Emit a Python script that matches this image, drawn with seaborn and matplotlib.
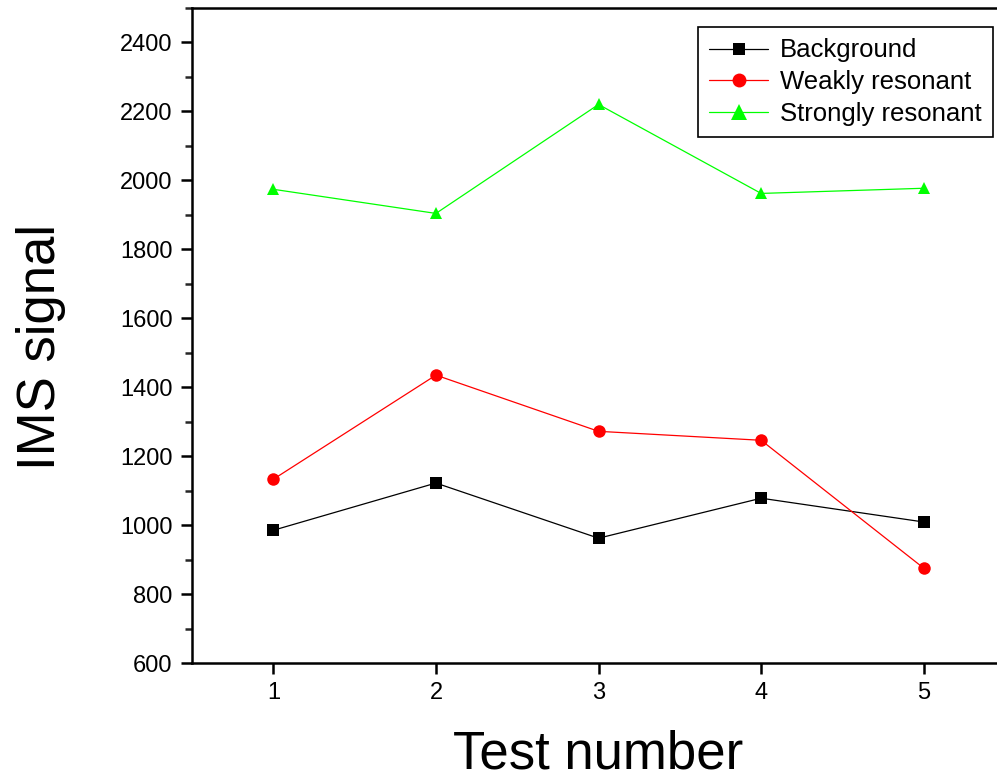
import matplotlib
matplotlib.use("Agg")
import matplotlib.pyplot as plt
import seaborn as sns
import pandas as pd
from matplotlib.ticker import MultipleLocator

tests = [1, 2, 3, 4, 5]
background = [985, 1122, 962, 1078, 1009]
weakly = [1133, 1435, 1272, 1246, 875]
strongly = [1974, 1904, 2220, 1962, 1977]
series_names = ["Background", "Weakly resonant", "Strongly resonant"]

df = pd.DataFrame({
    "Test": tests * 3,
    "Signal": background + weakly + strongly,
    "Series": [series_names[0]] * 5 + [series_names[1]] * 5 + [series_names[2]] * 5,
})

sns.set_style("ticks")
plt.rcParams['font.family'] = ['Liberation Sans', 'DejaVu Sans']
plt.rcParams['text.color'] = 'black'
plt.rcParams['axes.labelcolor'] = 'black'

fig = plt.figure(figsize=(9.97, 7.78), dpi=100)
ax = fig.add_axes([0.1926, 0.1478, 0.8155, 0.842])

palette = {series_names[0]: "#000000", series_names[1]: "#ff0000", series_names[2]: "#00ff00"}
markers = {series_names[0]: "s", series_names[1]: "o", series_names[2]: "^"}
sizes_m = {series_names[0]: 9, series_names[1]: 10, series_names[2]: 11}

sns.lineplot(data=df, x="Test", y="Signal", hue="Series", style="Series",
             palette=palette, markers=markers, dashes=False, linewidth=0.9,
             markersize=9, markeredgewidth=0, ax=ax, legend="full")

for line in ax.get_lines():
    lab = line.get_label()
    if lab in sizes_m:
        line.set_markersize(sizes_m[lab])

ax.set_xlim(0.5, 5.5)
ax.set_ylim(600, 2500)
ax.set_xticks(tests)
ax.yaxis.set_major_locator(MultipleLocator(200))
ax.yaxis.set_minor_locator(MultipleLocator(100))
ax.set_yticks(list(range(600, 2401, 200)))

for s in ax.spines.values():
    s.set_linewidth(1.8)
    s.set_color("black")
ax.tick_params(axis="both", which="major", direction="out", length=8, width=1.8,
               labelsize=17, colors="black", pad=6)
ax.tick_params(axis="y", which="minor", direction="out", length=5, width=1.8)
ax.tick_params(axis="x", which="minor", length=0)

ax.set_xlabel("Test number", fontsize=38, labelpad=18)
ax.set_ylabel("IMS signal", fontsize=38)
ax.yaxis.set_label_coords(-0.155, 0.482)

handles, labels = ax.get_legend_handles_labels()
leg = ax.legend(handles, labels, loc="upper left", bbox_to_anchor=(0.622, 0.971),
                fontsize=18.5, frameon=True, fancybox=False, edgecolor="black",
                framealpha=1, borderpad=0.45, labelspacing=0.3, handlelength=2.3,
                handletextpad=0.45, borderaxespad=0)
leg.get_frame().set_linewidth(1.2)
for lh in leg.get_lines():
    lh.set_linewidth(0.9)

fig.savefig("out.png", dpi=100)
